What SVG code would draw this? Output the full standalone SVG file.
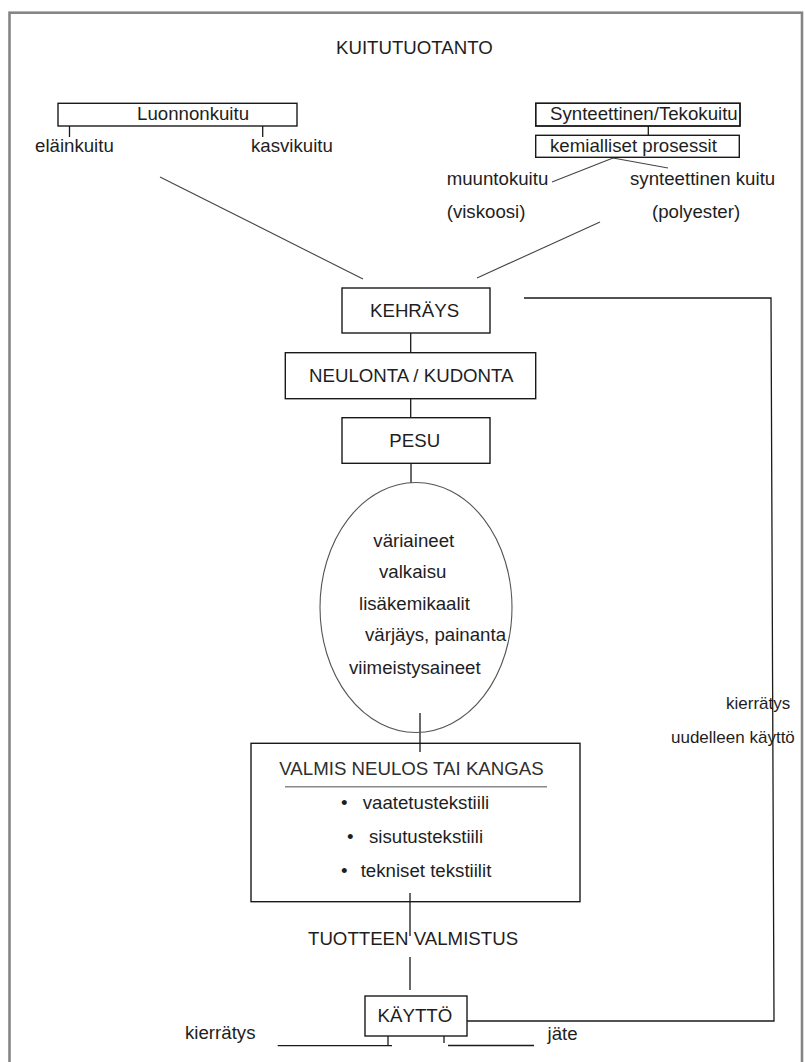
<svg xmlns="http://www.w3.org/2000/svg" width="805" height="1062" viewBox="0 0 805 1062">
<style>
text{font-family:"Liberation Sans",Arial,sans-serif;font-size:18.67px;fill:#1e1e1e}
.sm{font-size:17px}
.box{fill:#fff;stroke:#1a1a1a;stroke-width:1.4}
.nb{fill:none;stroke:#1a1a1a;stroke-width:1.4}
.ln{stroke:#1a1a1a;stroke-width:1.3;fill:none}
.dg{stroke:#444;stroke-width:1.1;fill:none}
</style>
<rect width="805" height="1062" fill="#fff"/>
<rect id="frame" x="9.5" y="12.7" width="792.5" height="1060" fill="none" stroke="#858585" stroke-width="2.6"/>

<g id="connectors">
<path class="ln" d="M69.5 126V137M262.7 126V137"/>
<path class="ln" d="M648.3 126V135.3"/>
<path class="dg" d="M613 158L552 182M613 158L668 168"/>
<path class="dg" d="M160 177L363 279"/>
<path class="dg" d="M600 222L477 278"/>
<path class="ln" d="M410.7 333V353M410.7 399V418M411 463V483"/>
<path class="ln" d="M420 713V752"/>
<path class="ln" d="M410 893V936M410 957V990"/>
<path class="ln" d="M467 1021H774L771 298H524"/>
<path class="ln" d="M388 1036V1045M277.7 1045.7H392M444 1036V1043M448 1045.5H534"/>
</g>

<g id="title"><text x="336" y="54">KUITUTUOTANTO</text></g>

<g id="luonnonkuitu"><rect class="box" x="58" y="103.3" width="239" height="22.7"/><text x="137" y="120">Luonnonkuitu</text></g>
<g id="elainkuitu"><text x="35" y="152">eläinkuitu</text></g>
<g id="kasvikuitu"><text x="251" y="152">kasvikuitu</text></g>

<g id="synteettinen"><rect class="box" x="535.7" y="103.3" width="204.3" height="22.7"/><text x="550" y="120">Synteettinen/Tekokuitu</text><rect class="nb" x="535.7" y="103.3" width="204.3" height="22.7"/></g>
<g id="kemialliset"><rect class="box" x="535.7" y="135.3" width="203.6" height="22"/><text x="550" y="151.7">kemialliset prosessit</text></g>
<g id="muuntokuitu"><text x="446.7" y="185">muuntokuitu</text><text x="446.7" y="218">(viskoosi)</text></g>
<g id="synteettinen-kuitu"><text x="630" y="185">synteettinen kuitu</text><text x="652" y="218">(polyester)</text></g>

<g id="kehrays"><rect class="box" x="342" y="288" width="148" height="45"/><text x="370" y="316.7">KEHRÄYS</text></g>
<g id="neulonta"><rect class="box" x="285.3" y="352.7" width="250.4" height="46"/><text x="309" y="381.7">NEULONTA / KUDONTA</text></g>
<g id="pesu"><rect class="box" x="342" y="417.7" width="148" height="45.6"/><text x="389.3" y="446.7">PESU</text></g>

<g id="kasittely">
<ellipse cx="416" cy="607.5" rx="96" ry="125" fill="none" stroke="#555" stroke-width="1.1"/>
<text x="373.3" y="546.7">väriaineet</text>
<text x="379" y="578.3">valkaisu</text>
<text x="359" y="610">lisäkemikaalit</text>
<text x="365" y="641">värjäys, painanta</text>
<text x="349" y="674">viimeistysaineet</text>
</g>

<g id="valmis">
<rect class="nb" x="251" y="743.3" width="329" height="158.4"/>
<text x="279.3" y="775" style="fill:#2e2e2e">VALMIS NEULOS TAI KANGAS</text>
<line x1="285" y1="786.7" x2="547" y2="786.7" stroke="#8a8a8a" stroke-width="1.6"/>
<text x="341" y="809">•</text><text x="362.7" y="809">vaatetustekstiili</text>
<text x="347" y="843">•</text><text x="369" y="843">sisutustekstiili</text>
<text x="341" y="876.7">•</text><text x="360.7" y="876.7">tekniset tekstiilit</text>
</g>

<g id="tuotteen"><text x="308" y="945">TUOTTEEN VALMISTUS</text></g>
<g id="kaytto"><rect class="box" x="365" y="996" width="102" height="40"/><text x="377.6" y="1022">KÄYTTÖ</text></g>
<g id="kierratys-loop"><text class="sm" x="726" y="709">kierrätys</text><text class="sm" x="671" y="743">uudelleen käyttö</text></g>
<g id="kierratys"><text x="185" y="1039.3">kierrätys</text></g>
<g id="jate"><text x="547.5" y="1040">jäte</text></g>
</svg>
